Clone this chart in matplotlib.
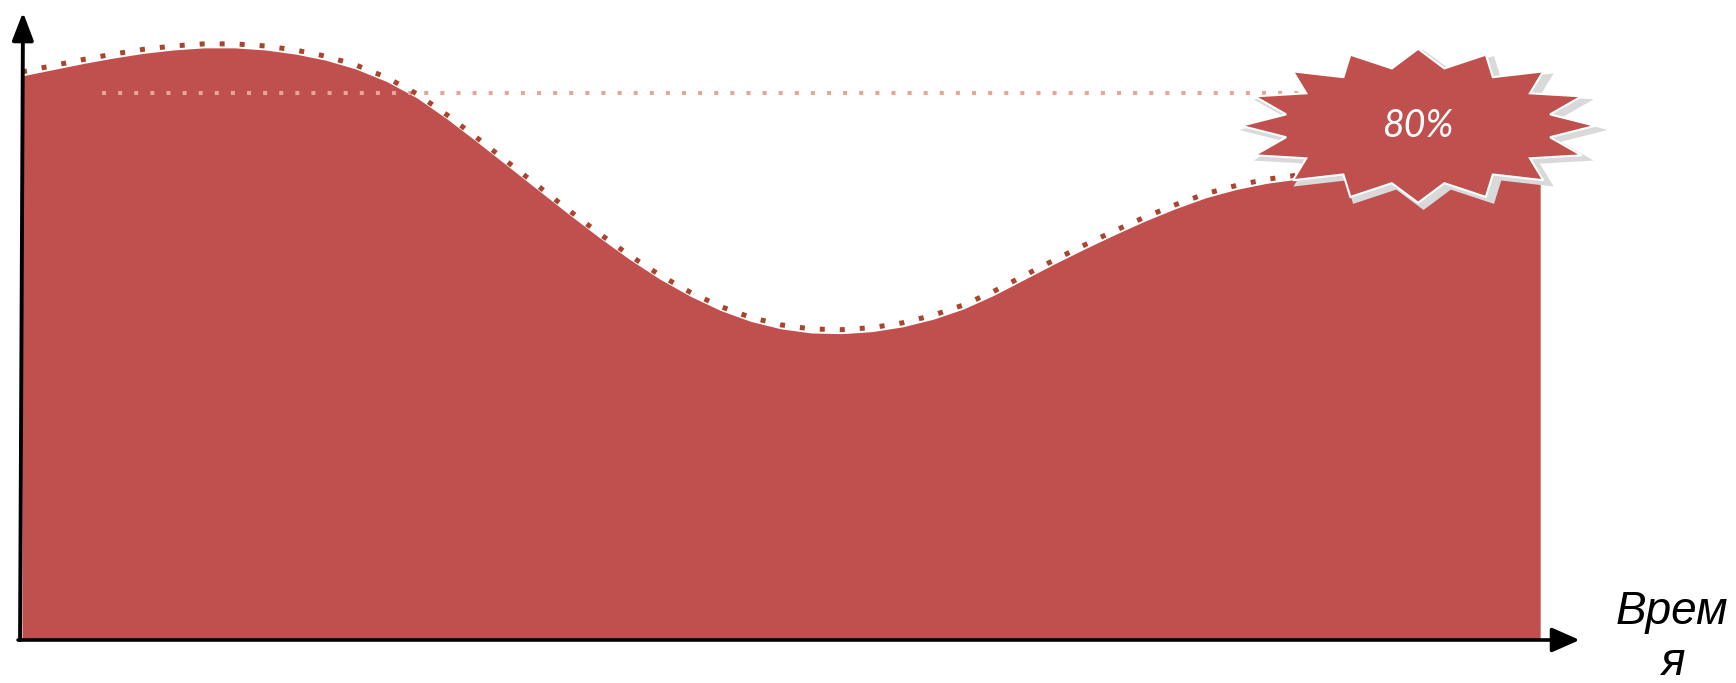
import numpy as np
import matplotlib
matplotlib.use('Agg')
import matplotlib.pyplot as plt
from matplotlib.patches import FancyArrowPatch, Polygon
from matplotlib.transforms import offset_copy

# level over time, percent
time = np.arange(0, 101, 2)
level = [82.5, 83.4, 84.3, 85.1, 85.8, 86.3, 86.6, 86.6, 86.3, 85.7,
         84.8, 83.5, 81.7, 79.3, 76.2, 72.8, 69.3, 65.8, 62.3, 58.9,
         55.7, 52.8, 50.3, 48.2, 46.6, 45.5, 44.9, 44.8, 45.1, 45.8,
         46.9, 48.4, 50.4, 52.7, 55.0, 57.2, 59.3, 61.3, 63.1, 64.7,
         65.9, 66.8, 67.4, 67.8, 68.1, 68.2, 68.3, 68.3, 68.3, 68.3,
         68.3]
target_level = 80
target_span = [5.3, 85]
target_label = '80%'
x_label = 'Врем\nя'

FILL = '#C0504D'


def star(cx, cy, rx, ry, n=16, inner=0.76):
    k = np.arange(2 * n)
    ang = np.pi / 2 - k * np.pi / n
    r = np.where(k % 2 == 0, 1.0, inner)
    return np.column_stack([cx + rx * r * np.cos(ang), cy + ry * r * np.sin(ang)])


fig = plt.figure(figsize=(17.36, 6.83), dpi=100)
ax = fig.add_axes([0, 0, 1, 1])
ax.set_xlim(-1.45, 112.9)
ax.set_ylim(-6.29, 93.6)
ax.axis('off')

ax.fill_between(time, 0, level, color=FILL, lw=0, zorder=1)
ax.plot(target_span, [target_level] * 2, color='#E6A596', lw=2.9,
        dashes=(1, 3), zorder=2)
raised = offset_copy(ax.transData, fig=fig, x=0, y=4, units='dots')
ax.plot(time, level, color='#A9442F', lw=3.6, dashes=(1, 3),
        transform=raised, zorder=3)

# starburst callout with its shadow
cx, cy, rx, ry = 91.96, 75.2, 11.66, 11.26
ax.add_patch(Polygon(star(cx + 0.36, cy - 0.6, rx * 1.04, ry * 1.04),
                     closed=True, fc='#D9D9D9', ec='none', zorder=4))
ax.add_patch(Polygon(star(cx, cy, rx, ry), closed=True, fc=FILL,
                     ec='white', lw=1.5, zorder=5))
ax.text(cx, cy, target_label, ha='center', va='center', color='white',
        fontsize=27, style='italic', family='Lato', zorder=6)

# axes arrows
ax.add_patch(FancyArrowPatch((-0.26, 0), (102.6, 0),
                             arrowstyle='-|>,head_length=17,head_width=7.5',
                             mutation_scale=1, lw=2.6, color='black',
                             shrinkA=0, shrinkB=0, zorder=7))
ax.add_patch(FancyArrowPatch((-0.13, 0), (0.066, 91.8),
                             arrowstyle='-|>,head_length=17,head_width=6.5',
                             mutation_scale=1, lw=2.8, color='black',
                             shrinkA=0, shrinkB=0, zorder=7))

ax.text(108.7, 7.3, x_label, ha='center', va='top', fontsize=33,
        style='italic', family='Liberation Sans', linespacing=1.2)

fig.savefig('out.png', dpi=100)
